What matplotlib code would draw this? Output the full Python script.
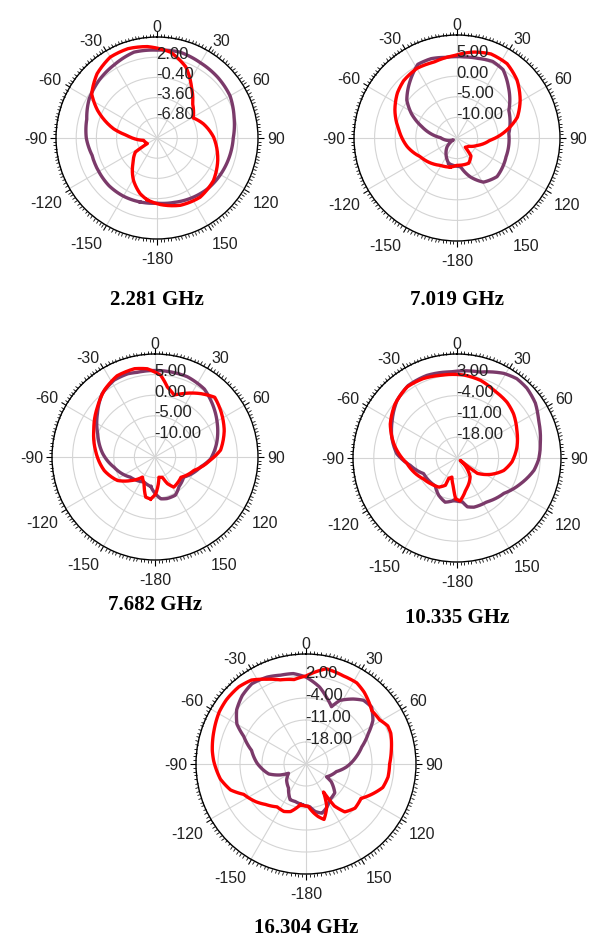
import numpy as np
import matplotlib

matplotlib.use("Agg")
import matplotlib.pyplot as plt
from matplotlib.ticker import MultipleLocator, NullFormatter
from matplotlib.transforms import offset_copy

PURPLE = "#7b3a6a"
RED = "#ff0000"

theta_ticks = [0, 30, 60, 90, 120, 150, 180, 210, 240, 270, 300, 330]
theta_labels = ["0", "30", "60", "90", "120", "150", "-180",
                "-150", "-120", "-90", "-60", "-30"]

# 2.281 GHz
f1_caption = "2.281 GHz"
f1_rings = [-6.8, -3.6, -0.4, 2.8]
f1_ring_labels = ["-6.80", "-3.60", "-0.40", "2.00"]
f1_range = (-10.0, 6.0)
f1_purple_deg = [-165, -150, -135, -120, -105, -90, -75, -60, -45, -30, -15, 0,
                 15, 30, 45, 60, 75, 90, 105, 120, 135, 150, 165, 180]
f1_purple_db = [0.48, 0.64, 0.72, 0.64, 0.64, 1.20, 1.52, 2.40, 2.96, 3.44, 4.08,
                3.92, 4.08, 3.76, 3.60, 3.36, 2.64, 2.08, 1.84, 1.60, 1.36, 0.96,
                0.56, 0.32]
f1_red_deg = [-171, -163, -151, -137, -123, -120, -100, -85, -78, -65, -56, -43,
              -30, -18, -6, 9, 22, 34, 46, 61, 73, 89, 110, 127, 144, 161, 177]
f1_red_db = [-0.08, -0.80, -2.32, -4.40, -5.92, -8.24, -7.84, -5.20, -2.96, 0.40,
             2.48, 3.92, 4.80, 4.88, 4.56, 3.76, 2.16, -0.24, -2.16, -3.44, -2.32,
             -1.04, 0.24, 1.20, 1.60, 1.28, 0.56]

# 7.019 GHz
f2_caption = "7.019 GHz"
f2_rings = [-10.0, -5.0, 0.0, 5.0]
f2_ring_labels = ["-10.00", "-5.00", "0.00", "5.00"]
f2_range = (-15.0, 10.0)
f2_purple_deg = [-162, -132, -117, -89, -72, -62, -53, -39, -28, -18, -8, 5, 15,
                 25, 34, 45, 62, 85, 111, 134, 149, 161, 173]
f2_purple_db = [-8.50, -11.75, -14.00, -11.00, -6.00, -2.50, 0.25, 3.00, 5.25,
                5.25, 4.75, 4.75, 5.00, 5.50, 5.00, 2.63, -0.75, -2.38, -2.25,
                -1.50, -2.50, -5.00, -8.00]
f2_red_deg = [-167, -149, -138, -117, -100, -82, -66, -53, -43, -30, -17, -2, 11,
              22, 34, 46, 59, 71, 81, 94, 110, 125, 138, 142, 155, 180]
f2_red_db = [-7.75, -7.25, -6.50, -5.00, -2.75, -0.75, 1.50, 3.13, 4.00, 4.50,
             4.25, 5.00, 6.25, 7.00, 6.75, 5.25, 2.88, 0.50, -2.75, -7.00, -9.75,
             -11.50, -12.00, -9.50, -8.25, -8.38]

# 7.682 GHz
f3_caption = "7.682 GHz"
f3_rings = [-10.0, -5.0, 0.0, 5.0]
f3_ring_labels = ["-10.00", "-5.00", "0.00", "5.00"]
f3_range = (-15.0, 10.0)
f3_purple_deg = [-172, -156, -129, -104, -86, -68, -53, -40, -28, -18, -12, 4, 22,
                 36, 47, 62, 78, 92, 102, 125, 141, 152, 164, 172, 179]
f3_purple_db = [-7.75, -8.38, -7.25, -4.75, -2.25, 0.00, 2.50, 5.00, 6.13, 6.25,
                6.00, 6.00, 6.00, 5.38, 4.00, 2.13, 0.25, -1.50, -3.63, -6.50,
                -5.75, -4.50, -4.50, -4.75, -6.00]
f3_red_deg = [-174, -167, -158, -148, -134, -122, -105, -84, -66, -49, -37, -25,
              -13, -5, 4, 10, 17, 22, 36, 45, 55, 69, 84, 93, 109, 128, 148, 155,
              160, 169, 179]
f3_red_db = [-4.75, -5.00, -8.00, -9.25, -6.75, -4.25, -2.25, -0.50, 1.25, 3.50,
             5.38, 6.75, 7.00, 6.50, 4.88, 2.25, 0.75, 1.50, 4.00, 5.50, 4.50,
             3.00, 1.00, -1.50, -5.00, -7.00, -6.38, -7.88, -9.75, -10.00, -6.00]

# 10.335 GHz
f4_caption = "10.335 GHz"
f4_rings = [-18.0, -11.0, -4.0, 3.0]
f4_ring_labels = ["-18.00", "-11.00", "-4.00", "3.00"]
f4_range = (-25.0, 10.0)
f4_purple_deg = [-176, -165, -154, -142, -115, -99, -86, -72, -60, -46, -34, -20,
                 -4, 15, 29, 37, 45, 55, 65, 78, 91, 99, 112, 127, 146, 161, 168,
                 173]
f4_purple_db = [-10.65, -9.60, -11.00, -13.10, -12.58, -9.08, -4.70, -1.90, 0.20,
                3.00, 4.40, 4.58, 4.05, 4.93, 7.55, 8.43, 8.25, 7.20, 5.28, 3.70,
                2.48, 1.25, -1.90, -5.23, -7.15, -7.50, -8.20, -10.13]
f4_red_deg = [-178, -173, -165, -158, -157, -148, -136, -122, -96, -77, -63, -49,
              -35, -23, -11, 5, 17, 29, 42, 52, 65, 80, 94, 105, 116, 127, 128,
              126, 145, 165, 176]
f4_red_db = [-11.35, -15.20, -18.35, -17.65, -15.03, -13.45, -12.75, -11.70,
             -8.03, -3.13, 0.20, 2.65, 4.23, 4.05, 3.35, 3.00, 2.30, 0.90, 0.20,
             -0.85, -2.78, -4.53, -6.45, -8.73, -12.40, -16.43, -20.10, -23.60,
             -17.30, -13.80, -10.48]

# 16.304 GHz
f5_caption = "16.304 GHz"
f5_rings = [-18.0, -11.0, -4.0, 3.0]
f5_ring_labels = ["-18.00", "-11.00", "-4.00", "2.00"]
f5_range = (-25.0, 10.0)
f5_purple_deg = [-174, -164, -156, -144, -130, -118, -113, -105, -89, -76, -66,
                 -60, -52, -43, -34, -24, -16, -8, 0, 10, 17, 24, 28, 36, 42, 49,
                 57, 64, 73, 82, 94, 104, 122, 125, 135, 146, 155, 162, 169, 175]
f5_purple_db = [-12.05, -12.58, -12.58, -15.55, -16.95, -18.70, -16.08, -12.75,
                -9.43, -7.15, -3.30, 0.38, 3.00, 4.75, 5.80, 5.28, 4.40, 4.05,
                2.65, -0.15, -2.78, -5.05, -2.08, 0.55, 2.30, 2.65, 0.38, -2.95,
                -6.45, -8.90, -12.05, -15.03, -17.30, -15.20, -12.05, -11.35,
                -9.60, -8.55, -9.60, -11.35]
f5_red_deg = [-172, -162, -155, -146, -135, -127, -116, -109, -100, -88, -82, -70,
              -59, -51, -41, -33, -25, -17, -8, 0, 12, 23, 32, 39, 51, 59, 65, 70,
              81, 90, 99, 107, 114, 122, 132, 141, 146, 148, 154, 162, 167, 171,
              177]
f5_red_db = [-11.88, -9.08, -8.34, -8.55, -6.80, -5.05, -2.95, 0.38, 2.65, 4.40,
             5.10, 6.15, 7.20, 7.55, 7.55, 6.85, 4.75, 3.00, 2.13, 3.00, 5.98,
             5.45, 5.45, 4.40, 1.95, 2.30, 3.70, 3.70, 2.48, 1.60, 1.43, 0.55,
             -1.73, -4.35, -4.00, -5.40, -8.90, -14.50, -9.95, -6.45, -7.85,
             -9.25, -11.53]

W, H = 593, 940


def closed(deg, db):
    deg = np.append(deg, deg[0])
    db = np.append(db, db[0])
    return np.unwrap(np.deg2rad(deg)), db


def draw_panel(fig, cx, cy, rad, rng, rings, ring_labels, curves, caption, cap_y):
    ax = fig.add_axes(
        [(cx - rad) / W, 1 - (cy + rad) / H, 2 * rad / W, 2 * rad / H],
        projection="polar",
    )
    ax.set_theta_zero_location("N")
    ax.set_theta_direction(-1)
    for deg, db, color in curves:
        theta, r = closed(deg, db)
        (line,) = ax.plot(theta, r, color=color, lw=2.4,
                          solid_joinstyle="round")
        # draw each segment along the polar grid instead of as a chord
        line.get_path()._interpolation_steps = 24
    ax.set_ylim(*rng)
    ax.set_yticks(rings)
    ax.yaxis.set_major_formatter(NullFormatter())
    ax.set_thetagrids(theta_ticks, [""] * len(theta_ticks))
    ax.xaxis.set_minor_locator(MultipleLocator(np.deg2rad(2)))
    ax.tick_params(axis="x", which="both", top=True, bottom=False,
                   direction="out", color="black")
    ax.tick_params(axis="x", which="major", length=4, width=0.8)
    ax.tick_params(axis="x", which="minor", length=2.5, width=0.6)
    ax.grid(color="#d4d4d4", lw=0.8)
    ax.spines["polar"].set_linewidth(1.0)

    # angle labels just outside the rim
    for deg, text in zip(theta_ticks, theta_labels):
        a = np.deg2rad(deg)
        sx, sy = np.sin(a), np.cos(a)
        ha = "left" if sx > 0.1 else ("right" if sx < -0.1 else "center")
        if sy > 0.1:
            va, dy = "baseline", 5 * sy
        elif sy < -0.1:
            va, dy = "top", 10 * sy - 3
        else:
            va, dy = "center_baseline", 0
        tr = offset_copy(ax.transData, fig=fig, x=9 * sx, y=dy, units="dots")
        ax.text(a, rng[1], text, transform=tr, ha=ha, va=va, clip_on=False,
                fontsize=11.5, family="Liberation Sans", color="#222222")

    label_tr = offset_copy(ax.transData, fig=fig, x=-1, y=3, units="dots")
    for v, text in zip(rings, ring_labels):
        ax.text(0, v, text, transform=label_tr, ha="left", va="center",
                fontsize=12, family="Liberation Sans", color="#222222")
    fig.text(cx / W, 1 - cap_y / H, caption, ha="center", va="center",
             family="Liberation Serif", weight="bold", fontsize=15)


fig = plt.figure(figsize=(W / 100, H / 100), dpi=100)

draw_panel(fig, 157, 138, 101, f1_range, f1_rings, f1_ring_labels,
           [(f1_purple_deg, f1_purple_db, PURPLE), (f1_red_deg, f1_red_db, RED)],
           f1_caption, 300)
draw_panel(fig, 457, 138, 103, f2_range, f2_rings, f2_ring_labels,
           [(f2_purple_deg, f2_purple_db, PURPLE), (f2_red_deg, f2_red_db, RED)],
           f2_caption, 300)
draw_panel(fig, 155, 457, 103, f3_range, f3_rings, f3_ring_labels,
           [(f3_purple_deg, f3_purple_db, PURPLE), (f3_red_deg, f3_red_db, RED)],
           f3_caption, 605)
draw_panel(fig, 457, 458, 104, f4_range, f4_rings, f4_ring_labels,
           [(f4_purple_deg, f4_purple_db, PURPLE), (f4_red_deg, f4_red_db, RED)],
           f4_caption, 618)
draw_panel(fig, 306, 764, 110, f5_range, f5_rings, f5_ring_labels,
           [(f5_purple_deg, f5_purple_db, PURPLE), (f5_red_deg, f5_red_db, RED)],
           f5_caption, 928)

fig.savefig("out.png", dpi=100)
